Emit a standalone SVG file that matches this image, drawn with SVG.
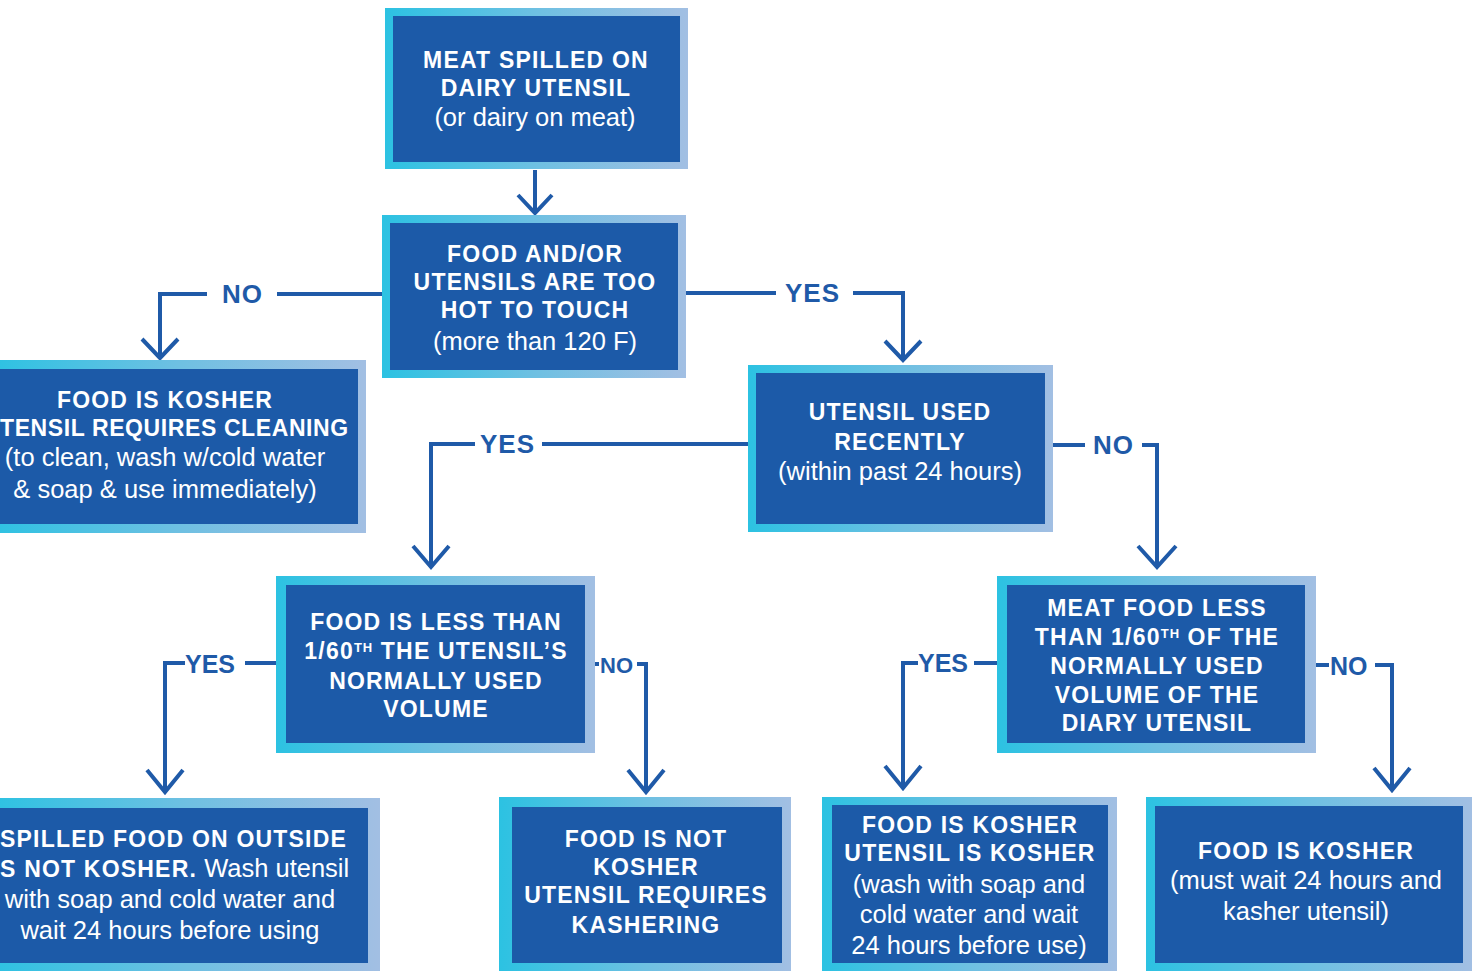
<svg xmlns="http://www.w3.org/2000/svg" width="1475" height="971" viewBox="0 0 1475 971">
<defs>
<linearGradient id="bord" x1="0" y1="0" x2="1" y2="0">
<stop offset="0" stop-color="#2cc2e2"/>
<stop offset="0.5" stop-color="#6ec0e2"/>
<stop offset="1" stop-color="#a2bfe3"/>
</linearGradient>
</defs>
<style>
.outer{fill:url(#bord)}
.inner{fill:#1c5aa8}
.b{font-family:"Liberation Sans",Arial,sans-serif;font-weight:bold;font-size:23px;letter-spacing:1.2px;fill:#fff;text-anchor:middle}
.r{font-family:"Liberation Sans",Arial,sans-serif;font-weight:normal;font-size:25.5px;letter-spacing:0;fill:#fff;text-anchor:middle}
.lbl{font-family:"Liberation Sans",Arial,sans-serif;font-weight:bold;font-size:26px;letter-spacing:1px;fill:#1f5aa8}
.c{fill:none;stroke:#1f5aa8;stroke-width:4}
.sup{font-size:13px;letter-spacing:1px}
</style>
<rect width="1475" height="971" fill="#fff"/>

<g id="connectors">
<path class="c" d="M535 170V213M518 195L535 213L552 195"/>
<path class="c" d="M382 294H277M207 294H160V358M142 339L160 358L178 339"/>
<text class="lbl" x="222" y="303">NO</text>
<path class="c" d="M686 293H776M853 293H903V360M885 341L903 360L921 341"/>
<text class="lbl" x="785" y="302">YES</text>
<path class="c" d="M748 444H542M475 444H431V567M413 546L431 567L449 546"/>
<text class="lbl" x="480" y="453">YES</text>
<path class="c" d="M1053 445H1085M1142 445H1157V567M1138 546L1157 567L1176 546"/>
<text class="lbl" x="1093" y="454">NO</text>
<path class="c" d="M276 663H245M185 663H165V792M147 770L165 792L183 770"/>
<text class="lbl" x="185" y="673" style="font-size:25px;letter-spacing:0">YES</text>
<path class="c" d="M595 664H599M637 664H646V792M628 770L646 792L664 770"/>
<text class="lbl" x="600" y="673" style="font-size:22px;letter-spacing:0">NO</text>
<path class="c" d="M997 663H974M918 663H903V788M885 766L903 788L921 766"/>
<text class="lbl" x="918" y="672" style="font-size:25px;letter-spacing:0">YES</text>
<path class="c" d="M1316 665H1329M1375 665H1392V790M1374 768L1392 790L1410 768"/>
<text class="lbl" x="1330" y="675" style="font-size:25px;letter-spacing:0">NO</text>
</g>

<g id="n1">
<rect class="outer" x="385" y="8" width="303" height="161"/>
<rect class="inner" x="393" y="16" width="287" height="146"/>
<text class="b" x="536" y="68">MEAT SPILLED ON</text>
<text class="b" x="536" y="96">DAIRY UTENSIL</text>
<text class="r" x="535" y="126">(or dairy on meat)</text>
</g>

<g id="n2">
<rect class="outer" x="382" y="215" width="304" height="163"/>
<rect class="inner" x="390" y="223" width="288" height="147"/>
<text class="b" x="535" y="262">FOOD AND/OR</text>
<text class="b" x="535" y="290">UTENSILS ARE TOO</text>
<text class="b" x="535" y="318">HOT TO TOUCH</text>
<text class="r" x="535" y="350">(more than 120 F)</text>
</g>

<g id="n3">
<rect class="outer" x="-10" y="360" width="376" height="173"/>
<rect class="inner" x="-10" y="369" width="368" height="155"/>
<text class="b" x="165" y="408">FOOD IS KOSHER</text>
<text class="b" x="0" y="436" style="text-anchor:start;letter-spacing:0.6px">TENSIL REQUIRES CLEANING</text>
<text class="r" x="165" y="466">(to clean, wash w/cold water</text>
<text class="r" x="165" y="498">&amp; soap &amp; use immediately)</text>
</g>

<g id="n4">
<rect class="outer" x="748" y="365" width="305" height="167"/>
<rect class="inner" x="756" y="373" width="289" height="151"/>
<text class="b" x="900" y="420">UTENSIL USED</text>
<text class="b" x="900" y="450">RECENTLY</text>
<text class="r" x="900" y="480">(within past 24 hours)</text>
</g>

<g id="n5">
<rect class="outer" x="276" y="576" width="319" height="177"/>
<rect class="inner" x="286" y="585" width="299" height="158"/>
<text class="b" x="436" y="630">FOOD IS LESS THAN</text>
<text class="b" x="436" y="659">1/60<tspan class="sup" dy="-7">TH</tspan><tspan dy="7"> THE UTENSIL’S</tspan></text>
<text class="b" x="436" y="689">NORMALLY USED</text>
<text class="b" x="436" y="717">VOLUME</text>
</g>

<g id="n6">
<rect class="outer" x="997" y="576" width="319" height="177"/>
<rect class="inner" x="1007" y="585" width="298" height="158"/>
<text class="b" x="1157" y="616">MEAT FOOD LESS</text>
<text class="b" x="1157" y="645">THAN 1/60<tspan class="sup" dy="-7">TH</tspan><tspan dy="7"> OF THE</tspan></text>
<text class="b" x="1157" y="674">NORMALLY USED</text>
<text class="b" x="1157" y="703">VOLUME OF THE</text>
<text class="b" x="1157" y="731">DIARY UTENSIL</text>
</g>

<g id="n7">
<rect class="outer" x="-10" y="798" width="390" height="183"/>
<rect class="inner" x="-10" y="808" width="378" height="155"/>
<text class="b" x="0" y="847" style="text-anchor:start">SPILLED FOOD ON OUTSIDE</text>
<text class="b" x="0" y="877" style="text-anchor:start">S NOT KOSHER.<tspan class="r"> Wash utensil</tspan></text>
<text class="r" x="170" y="908">with soap and cold water and</text>
<text class="r" x="170" y="939">wait 24 hours before using</text>
</g>

<g id="n8">
<rect class="outer" x="499" y="797" width="292" height="184"/>
<rect class="inner" x="512" y="807" width="270" height="156"/>
<text class="b" x="646" y="847">FOOD IS NOT</text>
<text class="b" x="646" y="875">KOSHER</text>
<text class="b" x="646" y="903">UTENSIL REQUIRES</text>
<text class="b" x="646" y="933">KASHERING</text>
</g>

<g id="n9">
<rect class="outer" x="822" y="797" width="295" height="184"/>
<rect class="inner" x="832" y="805" width="276" height="158"/>
<text class="b" x="970" y="833">FOOD IS KOSHER</text>
<text class="b" x="970" y="861">UTENSIL IS KOSHER</text>
<text class="r" x="969" y="893">(wash with soap and</text>
<text class="r" x="969" y="923">cold water and wait</text>
<text class="r" x="969" y="954">24 hours before use)</text>
</g>

<g id="n10">
<rect class="outer" x="1146" y="797" width="326" height="184"/>
<rect class="inner" x="1155" y="806" width="308" height="157"/>
<text class="b" x="1306" y="859">FOOD IS KOSHER</text>
<text class="r" x="1306" y="889">(must wait 24 hours and</text>
<text class="r" x="1306" y="920">kasher utensil)</text>
</g>
</svg>
